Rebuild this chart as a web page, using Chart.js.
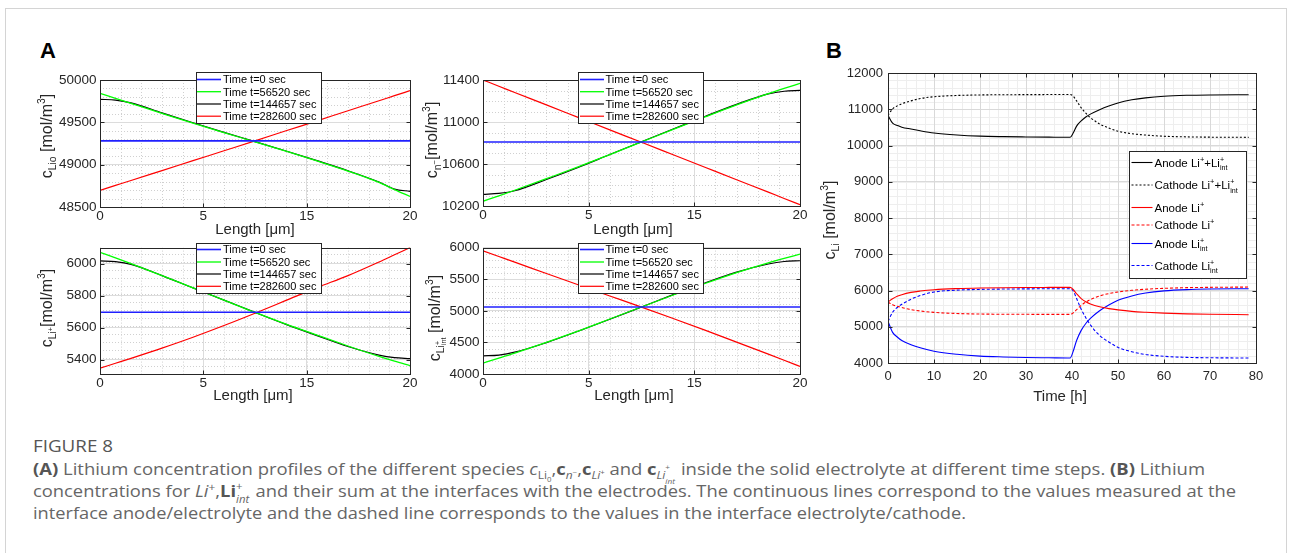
<!DOCTYPE html>
<html><head><meta charset="utf-8">
<script src="https://cdn.jsdelivr.net/npm/chart.js@4.4.1/dist/chart.umd.min.js"></script>
<style>
html,body{margin:0;padding:0;background:#fff;width:1290px;height:553px;overflow:hidden;position:relative;}
#frame{position:absolute;left:5px;top:8px;width:1282px;height:600px;border:1px solid #d4d4d4;box-sizing:border-box;}
canvas{position:absolute;}
.plab{position:absolute;font:bold 22px 'Liberation Sans',Arial,sans-serif;line-height:1;color:#000;}
.cap{position:absolute;left:33px;white-space:nowrap;font-family:'Open Sans','Noto Sans',sans-serif;font-size:16px;line-height:22px;color:#666;transform-origin:0 50%;}
.cap b{color:#555;}
.ss{position:relative;display:inline-block;font-size:0.62em;width:1.3em;height:0.1em;}
.ss .u{position:absolute;left:0;bottom:0.55em;line-height:1;}
.ss .d{position:absolute;left:0;top:-0.15em;line-height:1;}
sub,sup{font-size:0.65em;line-height:0;}
</style></head>
<body>
<div id="frame"></div>
<div class="plab" style="left:40px;top:40px">A</div>
<div class="plab" style="left:826px;top:40px">B</div>
<canvas id="a1"></canvas><canvas id="a2"></canvas><canvas id="a3"></canvas><canvas id="a4"></canvas><canvas id="b"></canvas>
<div class="cap" data-w="80" style="top:435px;color:#555">FIGURE 8</div>
<div class="cap" data-w="1172" style="top:458px"><b>(A)</b> Lithium concentration profiles of the different species <i>c</i><sub>Li<sub>0</sub></sub>,<b>c</b><sub><i>n</i><sup>−</sup></sub>,<b>c</b><sub><i>Li</i><sup>+</sup></sub> and <b>c</b><sub><i>Li</i></sub><span class="ss" style="font-size:0.45em"><span class="u">+</span><span class="d" style="top:0.5em"><i>int</i></span></span> inside the solid electrolyte at different time steps. <b>(B)</b> Lithium</div>
<div class="cap" data-w="1203" style="top:480px">concentrations for <i>Li</i><sup>+</sup>,<b>Li</b><span class="ss"><span class="u">+</span><span class="d"><i>int</i></span></span> and their sum at the interfaces with the electrodes. The continuous lines correspond to the values measured at the</div>
<div class="cap" data-w="933" style="top:502px">interface anode/electrolyte and the dashed line corresponds to the values in the interface electrolyte/cathode.</div>
<script>
// ================= DATA =================
const seriesNames = ['Time t=0 sec', 'Time t=56520 sec', 'Time t=144657 sec', 'Time t=282600 sec'];
const lenX = [0, 1, 2, 4, 6, 8, 10, 12, 14, 16, 18, 19, 20];
const lenTickLabels = ['0', '5', '15', '20'];

// c_Lio
const cLio_t0 = [49281, 49281, 49281, 49281, 49281, 49281, 49281, 49281, 49281, 49281, 49281, 49281, 49281];
const cLio_t1 = [49843, 49784, 49725, 49607, 49490, 49378, 49270, 49160, 49045, 48925, 48790, 48705, 48625];
const cLio_t2 = [49772, 49762, 49730, 49612, 49495, 49382, 49273, 49162, 49047, 48928, 48795, 48712, 48685];
const cLio_t3 = [48697, 48755, 48813, 48930, 49047, 49164, 49281, 49400, 49518, 49637, 49755, 49815, 49874];
const cLioTicks = ['48500', '49000', '49500', '50000'];

// c_n-
const cN_t0 = [10810, 10810, 10810, 10810, 10810, 10810, 10810, 10810, 10810, 10810, 10810, 10810, 10810];
const cN_t1 = [10245, 10297, 10350, 10460, 10572, 10690, 10810, 10930, 11048, 11163, 11270, 11320, 11368];
const cN_t2 = [10311, 10320, 10345, 10452, 10567, 10690, 10812, 10933, 11053, 11168, 11268, 11293, 11301];
const cN_t3 = [11400, 11341, 11281, 11163, 11044, 10925, 10807, 10688, 10569, 10450, 10332, 10272, 10213];
const cNTicks = ['10200', '10600', '11000', '11400'];

// c_Li+
const cLi_t0 = [5696, 5696, 5696, 5696, 5696, 5696, 5696, 5696, 5696, 5696, 5696, 5696, 5696];
const cLi_t1 = [6071, 6036, 6000, 5925, 5848, 5772, 5695, 5622, 5553, 5485, 5420, 5390, 5362];
const cLi_t2 = [6017, 6012, 5995, 5925, 5848, 5772, 5695, 5620, 5550, 5482, 5428, 5412, 5406];
const cLi_t3 = [5346, 5377, 5408, 5472, 5540, 5613, 5690, 5770, 5850, 5925, 6010, 6055, 6100];
const cLiTicks = ['5400', '5600', '5800', '6000'];

// c_Li+int
const cInt_t0 = [5060, 5060, 5060, 5060, 5060, 5060, 5060, 5060, 5060, 5060, 5060, 5060, 5060];
const cInt_t1 = [4172, 4250, 4330, 4500, 4680, 4870, 5060, 5250, 5432, 5605, 5760, 5830, 5896];
const cInt_t2 = [4286, 4300, 4345, 4497, 4677, 4866, 5060, 5255, 5440, 5612, 5740, 5780, 5792];
const cInt_t3 = [5948, 5859, 5770, 5590, 5412, 5235, 5058, 4878, 4695, 4505, 4315, 4218, 4120];
const cIntTicks = ['4000', '4500', '5000', '5500', '6000'];

// Panel B
const timeH = [0, 1, 2, 3, 5, 7, 10, 15, 20, 25, 30, 35, 39.6, 40.2, 41, 42, 43, 44, 46, 48, 50, 53, 56, 60, 65, 70, 78.4];
const anodeSum     = [10831, 10615, 10555, 10505, 10453, 10405, 10345, 10290, 10258, 10244, 10236, 10230, 10226, 10330, 10535, 10678, 10785, 10865, 10988, 11090, 11175, 11260, 11315, 11360, 11385, 11395, 11400];
const cathodeSum   = [10831, 11010, 11093, 11150, 11231, 11295, 11345, 11380, 11395, 11400, 11403, 11405, 11405, 11370, 11230, 11040, 10890, 10770, 10595, 10480, 10395, 10325, 10288, 10255, 10238, 10230, 10225];
const anodeLi      = [5683, 5770, 5838, 5885, 5948, 5985, 6022, 6052, 6068, 6077, 6082, 6085, 6087, 6035, 5910, 5775, 5690, 5630, 5550, 5500, 5465, 5425, 5400, 5375, 5355, 5343, 5333];
const cathodeLi    = [5683, 5610, 5563, 5530, 5471, 5435, 5397, 5365, 5351, 5345, 5343, 5342, 5341, 5375, 5470, 5590, 5680, 5750, 5850, 5915, 5960, 6005, 6035, 6060, 6078, 6087, 6095];
const anodeLiInt   = [5148, 4845, 4717, 4620, 4505, 4420, 4325, 4240, 4190, 4167, 4152, 4144, 4137, 4300, 4620, 4900, 5090, 5230, 5440, 5600, 5730, 5850, 5930, 5990, 6025, 6040, 6050];
const cathodeLiInt = [5148, 5400, 5530, 5620, 5760, 5860, 5958, 6010, 6030, 6040, 6045, 6048, 6050, 6000, 5780, 5480, 5250, 5050, 4760, 4580, 4430, 4310, 4235, 4185, 4155, 4145, 4137];
const timeTicks = ['0', '10', '20', '30', '40', '50', '60', '70', '80'];
const cLiBTicks = ['4000', '5000', '6000', '7000', '8000', '9000', '10000', '11000', '12000'];
const bNames = ['Anode Li+ +Li+int', 'Cathode Li+ +Li+int', 'Anode Li+', 'Cathode Li+', 'Anode Li+int', 'Cathode Li+int'];

// ================= HELPERS =================
const FONT = "'Liberation Sans', Arial, Helvetica, sans-serif";
const INK = '#262626';
const T = t => ({t});
const sup = t => ({t, s: 0.65, dy: -0.42});
const sub = t => ({t, s: 0.65, dy: 0.28});
const stk = (a, b) => ({stack: [{t: a, s: 0.62, dy: -0.42}, {t: b, s: 0.62, dy: 0.3}]});

function segsWidth(ctx, segs, size) {
  let w = 0;
  for (const s of segs) {
    const parts = s.stack || [s]; let m = 0;
    for (const p of parts) { ctx.font = `${size * (p.s || 1)}px ${FONT}`; m = Math.max(m, ctx.measureText(p.t).width); }
    w += m;
  }
  return w;
}
function drawSegs(ctx, segs, x, yBase, size, color) {
  ctx.fillStyle = color; ctx.textAlign = 'left'; ctx.textBaseline = 'alphabetic';
  let cx = x;
  for (const s of segs) {
    const parts = s.stack || [s]; let m = 0;
    for (const p of parts) {
      ctx.font = `${size * (p.s || 1)}px ${FONT}`;
      ctx.fillText(p.t, cx, yBase + (p.dy || 0) * size);
      m = Math.max(m, ctx.measureText(p.t).width);
    }
    cx += m;
  }
}

const CFG = {};
const matlab = {
  id: 'matlab',
  beforeDraw(chart) {
    const c = CFG[chart.canvas.id]; if (!c) return;
    const {ctx, chartArea: a} = chart; const xs = chart.scales.x, ys = chart.scales.y;
    ctx.save();
    ctx.beginPath(); ctx.rect(a.left, a.top, a.right - a.left, a.bottom - a.top); ctx.clip();
    ctx.strokeStyle = c.minorColor; ctx.lineWidth = 1; ctx.setLineDash(c.minorDash);
    ctx.beginPath();
    for (let v = xs.min; v <= xs.max + 1e-9; v += c.xMinor) { const p = Math.round(xs.getPixelForValue(v)) + 0.5; ctx.moveTo(p, a.top); ctx.lineTo(p, a.bottom); }
    for (let v = ys.min; v <= ys.max + 1e-9; v += c.yMinor) { const p = Math.round(ys.getPixelForValue(v)) + 0.5; ctx.moveTo(a.left, p); ctx.lineTo(a.right, p); }
    ctx.stroke();
    ctx.restore();
  },
  afterDraw(chart) {
    const c = CFG[chart.canvas.id]; if (!c) return;
    const {ctx, chartArea: a} = chart; const xs = chart.scales.x, ys = chart.scales.y;
    const ox = c.canvas[0], oy = c.canvas[1];
    const L = Math.round(a.left) + 0.5, R = Math.round(a.right) + 0.5, Tp = Math.round(a.top) + 0.5, B = Math.round(a.bottom) + 0.5;
    ctx.save();
    ctx.setLineDash([]); ctx.strokeStyle = INK; ctx.lineWidth = 1;
    ctx.beginPath();
    const tl = 4;
    for (const t of xs.ticks) { const p = Math.round(xs.getPixelForValue(t.value)) + 0.5; ctx.moveTo(p, B); ctx.lineTo(p, B - tl); ctx.moveTo(p, Tp); ctx.lineTo(p, Tp + tl); }
    for (const t of ys.ticks) { const p = Math.round(ys.getPixelForValue(t.value)) + 0.5; ctx.moveTo(L, p); ctx.lineTo(L + tl, p); ctx.moveTo(R, p); ctx.lineTo(R - tl, p); }
    ctx.stroke();
    ctx.strokeRect(L, Tp, R - L, B - Tp);
    // legend
    const lg = c.legend;
    const bx = Math.round(lg.box[0] - ox) + 0.5, by = Math.round(lg.box[1] - oy) + 0.5;
    const bw = Math.round(lg.box[2] - lg.box[0]), bh = Math.round(lg.box[3] - lg.box[1]);
    ctx.fillStyle = '#fff'; ctx.fillRect(bx, by, bw, bh);
    ctx.strokeStyle = INK; ctx.lineWidth = 1; ctx.strokeRect(bx, by, bw, bh);
    chart.data.datasets.forEach((ds, i) => {
      const ry = lg.rows[i] - oy;
      ctx.save();
      ctx.strokeStyle = ds.borderColor; ctx.lineWidth = ds.borderWidth; ctx.setLineDash(ds.borderDash || []);
      ctx.beginPath(); ctx.moveTo(lg.sx[0] - ox, ry); ctx.lineTo(lg.sx[1] - ox, ry); ctx.stroke();
      ctx.restore();
      drawSegs(ctx, lg.labels[i], lg.tx - ox, ry + lg.size * 0.36, lg.size, '#000');
    });
    // y title (rotated)
    const yt = c.ytitle;
    ctx.save();
    ctx.translate(yt.pos[0] - ox, yt.pos[1] - oy); ctx.rotate(-Math.PI / 2);
    const w = segsWidth(ctx, yt.segs, yt.size);
    drawSegs(ctx, yt.segs, -w / 2, yt.size * 0.36, yt.size, INK);
    ctx.restore();
    // x title
    ctx.font = `${c.xtitle.size}px ${FONT}`; ctx.fillStyle = INK; ctx.textAlign = 'center'; ctx.textBaseline = 'middle';
    ctx.fillText(c.xtitle.text, c.xtitle.pos[0] - ox, c.xtitle.pos[1] - oy);
    ctx.restore();
  }
};
Chart.register(matlab);

function makeChart(c) {
  CFG[c.id] = c;
  const el = document.getElementById(c.id);
  const [cl, ct, cw, ch] = c.canvas;
  el.width = cw; el.height = ch; el.style.left = cl + 'px'; el.style.top = ct + 'px';
  const [al, at, ar, ab] = c.area;
  const yVals = c.yLabels.map(Number);
  new Chart(el, {
    type: 'line',
    data: {datasets: c.datasets},
    options: {
      responsive: false, animation: false, devicePixelRatio: 1,
      layout: {padding: {left: 0, bottom: 0, top: at - ct, right: cl + cw - ar}},
      plugins: {legend: {display: false}, tooltip: {enabled: false}},
      elements: {point: {radius: 0}, line: {cubicInterpolationMode: 'monotone', fill: false}},
      scales: {
        x: {
          type: 'linear', min: c.xMin, max: c.xMax,
          afterBuildTicks: s => { s.ticks = c.xLabels.map((l, i) => ({value: c.xTickVal(i)})); },
          afterFit: s => { s.height = ct + ch - ab; },
          ticks: {autoSkip: false, maxRotation: 0, padding: c.xPad, color: INK, font: {family: FONT, size: c.tickSize}, callback: (v, i) => c.xLabels[i]},
          grid: {color: c.majorColor, drawTicks: false, lineWidth: 1},
          border: {display: false}
        },
        y: {
          type: 'linear', min: c.yMin, max: c.yMax,
          afterBuildTicks: s => { s.ticks = yVals.map(v => ({value: v})); },
          afterFit: s => { s.width = al - cl; },
          ticks: {autoSkip: false, padding: c.yPad, color: INK, font: {family: FONT, size: c.tickSize}, callback: (v, i) => c.yLabels[i]},
          grid: {color: c.majorColor, drawTicks: false, lineWidth: 1},
          border: {display: false}
        }
      }
    }
  });
}

const A_COL = ['#2020ff', '#00ff00', '#000000', '#ff0000'];
const A_W = [1.6, 1.3, 1.2, 1.2];
function aSets(arrs) {
  return arrs.map((arr, i) => ({label: seriesNames[i], data: lenX.map((x, j) => ({x, y: arr[j]})), borderColor: A_COL[i], borderWidth: A_W[i], pointRadius: 0}));
}
const legA = seriesNames.map(n => [T(n)]);
const aBase = {xMin: 0, xMax: 20, xLabels: lenTickLabels, xTickVal: i => i * 20 / 3, xMinor: 4 / 3,
  minorColor: '#d0d0d0', minorDash: [1, 2], majorColor: '#dcdcdc', tickSize: 13.5, xPad: 1, yPad: 3.5};

makeChart(Object.assign({}, aBase, {
  id: 'a1', canvas: [20, 60, 400, 185], area: [100, 80, 410, 207],
  yMin: 48500, yMax: 50000, yLabels: cLioTicks, yMinor: 100,
  datasets: aSets([cLio_t0, cLio_t1, cLio_t2, cLio_t3]),
  legend: {box: [196, 72, 321, 123], rows: [79.5, 91.7, 104, 116.2], sx: [197, 221], tx: 223, size: 11, labels: legA},
  ytitle: {segs: [T('c'), sub('Lio'), T(' [mol/m'), sup('3'), T(']')], pos: [46, 136], size: 16},
  xtitle: {text: 'Length [\u03bcm]', pos: [255, 229.5], size: 15}
}));
makeChart(Object.assign({}, aBase, {
  id: 'a2', canvas: [415, 60, 400, 185], area: [483, 80, 800, 206],
  yMin: 10200, yMax: 11400, yLabels: cNTicks, yMinor: 100,
  datasets: aSets([cN_t0, cN_t1, cN_t2, cN_t3]),
  legend: {box: [578, 72, 703, 123], rows: [79.5, 91.7, 104, 116.2], sx: [580, 604], tx: 605.5, size: 11, labels: legA},
  ytitle: {segs: [T('c'), sub('n'), {t: '\u2212', s: 0.5, dy: 0.02}, T('[mol/m'), sup('3'), T(']')], pos: [431, 140], size: 16},
  xtitle: {text: 'Length [\u03bcm]', pos: [633, 229.5], size: 15}
}));
makeChart(Object.assign({}, aBase, {
  id: 'a3', canvas: [20, 236, 400, 175], area: [100, 247, 410, 374],
  yMin: 5310, yMax: 6100, yLabels: cLiTicks, yMinor: 50,
  datasets: aSets([cLi_t0, cLi_t1, cLi_t2, cLi_t3]),
  legend: {box: [196, 243, 321, 293], rows: [249.5, 262, 274, 286.3], sx: [197, 221], tx: 223, size: 11, labels: legA},
  ytitle: {segs: [T('c'), sub('Li'), {t: '+', s: 0.45, dy: 0.05}, T('[mol/m'), sup('3'), T(']')], pos: [46, 308], size: 16},
  xtitle: {text: 'Length [\u03bcm]', pos: [253, 395.5], size: 15}
}));
makeChart(Object.assign({}, aBase, {
  id: 'a4', canvas: [415, 236, 400, 175], area: [483, 246, 800, 374],
  yMin: 4000, yMax: 6000, yLabels: cIntTicks, yMinor: 100,
  datasets: aSets([cInt_t0, cInt_t1, cInt_t2, cInt_t3]),
  legend: {box: [578, 243, 703, 293], rows: [249.5, 262, 274, 286.3], sx: [580, 604], tx: 605.5, size: 11, labels: legA},
  ytitle: {segs: [T('c'), sub('Li'), {stack: [{t: '+', s: 0.45, dy: 0.02}, {t: 'int', s: 0.45, dy: 0.42}]}, T(' [mol/m'), sup('3'), T(']')], pos: [434, 318], size: 16},
  xtitle: {text: 'Length [\u03bcm]', pos: [634, 396], size: 15}
}));

const B_COL = ['#000000', '#000000', '#ff0000', '#ff0000', '#0000ff', '#0000ff'];
const B_DASH = [[], [2, 2], [], [3, 2], [], [3, 2]];
const bSeries = [anodeSum, cathodeSum, anodeLi, cathodeLi, anodeLiInt, cathodeLiInt];
const legB = [
  [T('Anode Li'), sup('+'), T('+Li'), stk('+', 'int')],
  [T('Cathode Li'), sup('+'), T('+Li'), stk('+', 'int')],
  [T('Anode Li'), sup('+')],
  [T('Cathode Li'), sup('+')],
  [T('Anode Li'), stk('+', 'int')],
  [T('Cathode Li'), stk('+', 'int')]
];
makeChart({
  id: 'b', canvas: [815, 60, 460, 350], area: [888, 73, 1256, 363],
  xMin: 0, xMax: 80, xLabels: timeTicks, xTickVal: i => Number(timeTicks[i]), xMinor: 2,
  yMin: 4000, yMax: 12000, yLabels: cLiBTicks, yMinor: 200,
  minorColor: '#eeeeee', minorDash: [], majorColor: '#d9d9d9', tickSize: 13, xPad: 6, yPad: 5,
  datasets: bSeries.map((arr, i) => ({label: bNames[i], data: timeH.map((x, j) => ({x, y: arr[j]})), borderColor: B_COL[i], borderWidth: 1.1, borderDash: B_DASH[i], pointRadius: 0})),
  legend: {box: [1129, 151, 1246, 278], rows: [162.5, 185, 207.5, 225, 243.5, 265.5], sx: [1131.5, 1152.5], tx: 1154.5, size: 11.5, labels: legB},
  ytitle: {segs: [T('c'), sub('Li'), T(' [mol/m'), sup('3'), T(']')], pos: [829, 220], size: 16},
  xtitle: {text: 'Time [h]', pos: [1060, 397], size: 15}
});

function fitCaps() {
  document.querySelectorAll('.cap').forEach(el => {
    el.style.transform = 'none';
    const w = el.getBoundingClientRect().width;
    el.style.transform = `scaleX(${(+el.dataset.w) / w})`;
  });
}
fitCaps();
if (document.fonts && document.fonts.ready) document.fonts.ready.then(fitCaps);
</script>
</body></html>
